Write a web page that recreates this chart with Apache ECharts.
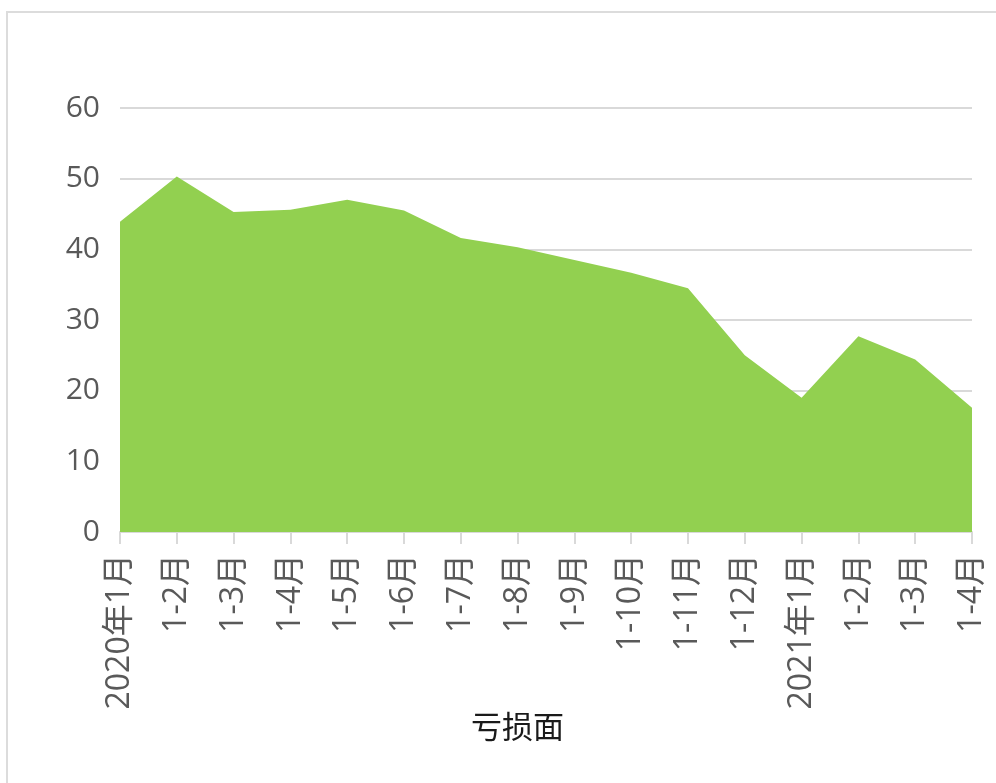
<!DOCTYPE html>
<html>
<head>
<meta charset="utf-8">
<script src="https://cdn.jsdelivr.net/npm/echarts@6/dist/echarts.min.js"></script>
<style>
html,body{margin:0;padding:0;background:#fff;}
#frame{position:absolute;left:6px;top:11px;width:1200px;height:900px;border-left:2px solid #dcdcdc;border-top:2px solid #dcdcdc;}
#main{position:absolute;left:0;top:0;width:996px;height:783px;}
</style>
</head>
<body>
<div id="frame"></div>
<div id="main"></div>
<script>
var categories = ['2020年1月','1-2月','1-3月','1-4月','1-5月','1-6月','1-7月','1-8月','1-9月','1-10月','1-11月','1-12月','2021年1月','1-2月','1-3月','1-4月'];
var lossRatio = [43.9, 50.3, 45.3, 45.6, 47.0, 45.5, 41.6, 40.3, 38.5, 36.7, 34.5, 25.0, 19.0, 27.7, 24.4, 17.6];
var seriesName = '亏损面';
var yTicks = {min: 0, max: 60, interval: 10};

var labelFont = '"Open Sans", "Noto Sans CJK SC", sans-serif';
var chart = echarts.init(document.getElementById('main'));
chart.setOption({
  animation: false,
  grid: {left: 120, right: 24, top: 108, bottom: 251, containLabel: false},
  legend: {
    data: [seriesName],
    icon: 'none',
    itemWidth: 0,
    left: 461,
    top: 706,
    textStyle: {fontSize: 31, color: '#1a1a1a', fontFamily: 'Noto Sans CJK SC'}
  },
  xAxis: {
    type: 'category',
    data: categories,
    boundaryGap: false,
    axisLine: {lineStyle: {color: '#d9d9d9', width: 2}},
    axisTick: {show: true, length: 12, lineStyle: {color: '#d9d9d9', width: 2}},
    axisLabel: {rotate: 90, margin: 22, fontSize: 32, color: '#595959', fontFamily: labelFont, interval: 0}
  },
  yAxis: {
    type: 'value',
    min: yTicks.min, max: yTicks.max, interval: yTicks.interval,
    axisLine: {show: false},
    axisTick: {show: false},
    splitLine: {lineStyle: {color: '#d9d9d9', width: 2}},
    axisLabel: {margin: 20, fontSize: 30, color: '#595959', fontFamily: labelFont}
  },
  series: [{
    name: seriesName,
    type: 'line',
    data: lossRatio,
    symbol: 'none',
    lineStyle: {width: 0, color: '#92d050'},
    itemStyle: {color: '#92d050'},
    areaStyle: {color: '#92d050', opacity: 1}
  }]
});
</script>
</body>
</html>
